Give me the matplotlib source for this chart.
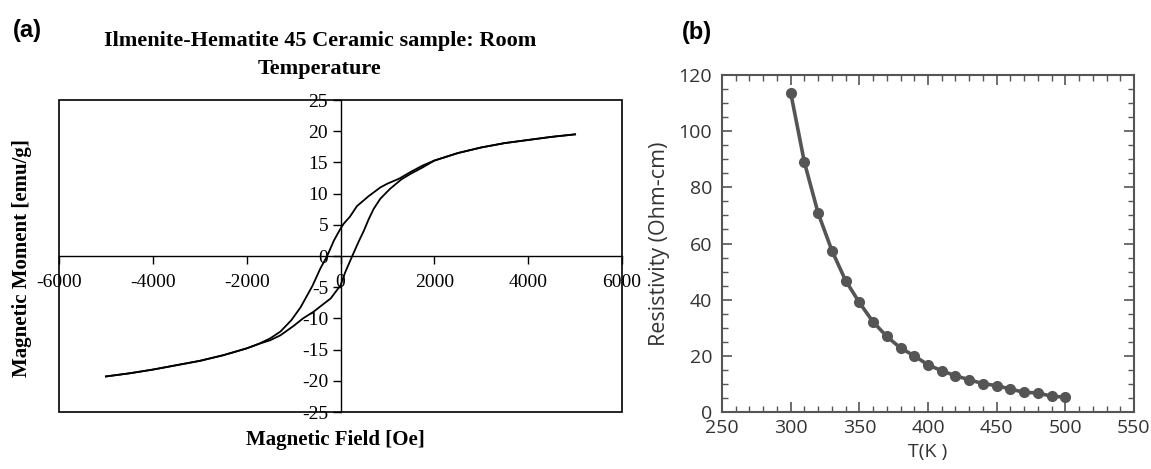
import matplotlib
matplotlib.use("Agg")
import matplotlib.pyplot as plt
from matplotlib.patches import Rectangle
from matplotlib.ticker import MultipleLocator

# (a) hysteresis loop
h_down = [5000, 4500, 4000, 3500, 3000, 2500, 2000, 1750, 1500, 1250, 1000, 850,
          600, 350, 200, 70, 0, -140, -285, -430, -600, -850, -1050, -1280,
          -1500, -1750, -2000, -2500, -3000, -3500, -4000, -4500, -5000]
m_down = [19.5, 19.1, 18.6, 18.1, 17.4, 16.5, 15.3, 14.5, 13.5, 12.4, 11.6, 11.0,
          9.6, 8.0, 6.3, 5.2, 4.4, 2.5, 0.0, -2.0, -4.8, -8.2, -10.3, -12.1,
          -13.2, -14.1, -14.8, -15.9, -16.8, -17.5, -18.2, -18.8, -19.3]
h_up = [-5000, -4500, -4000, -3500, -3000, -2500, -2000, -1750, -1500, -1280,
        -1000, -800, -570, -400, -210, 0, 100, 250, 380, 500, 600, 710, 850,
        1060, 1300, 1500, 1750, 2000, 2500, 3000, 3500, 4000, 4500, 5000]
m_up = [-19.3, -18.8, -18.2, -17.5, -16.8, -15.9, -14.8, -14.1, -13.5, -12.7,
        -11.2, -10.0, -8.9, -7.9, -6.8, -4.7, -2.6, 0.0, 2.2, 4.1, 5.9, 7.6, 9.2,
        10.8, 12.3, 13.2, 14.2, 15.3, 16.5, 17.4, 18.1, 18.6, 19.1, 19.5]
field_ticks = [-6000, -4000, -2000, 0, 2000, 4000, 6000]
moment_ticks = [-25, -20, -15, -10, -5, 0, 5, 10, 15, 20, 25]

# (b) resistivity vs temperature
temp_k = [300, 310, 320, 330, 340, 350, 360, 370, 380, 390, 400,
          410, 420, 430, 440, 450, 460, 470, 480, 490, 500]
resistivity = [113.7, 88.9, 70.8, 57.5, 46.8, 39.0, 32.1, 26.9, 22.8, 20.0, 16.8,
               14.7, 12.9, 11.5, 10.1, 9.4, 8.2, 7.0, 6.8, 5.6, 5.3]

fig = plt.figure(figsize=(11.51, 4.69), dpi=100)

# ---- panel (a)
serif = "Liberation Serif"
ax1 = fig.add_axes([0.0513, 0.1215, 0.4891, 0.6652])
ax1.plot(h_down, m_down, color="black", lw=1.3)
ax1.plot(h_up, m_up, color="black", lw=1.3)
ax1.set_xlim(-6000, 6000)
ax1.set_ylim(-25, 25)
ax1.spines["left"].set_position(("data", 0))
ax1.spines["bottom"].set_position(("data", 0))
for s in ["top", "right"]:
    ax1.spines[s].set_visible(False)
for s in ["left", "bottom"]:
    ax1.spines[s].set_linewidth(1.0)
ax1.add_patch(Rectangle((0, 0), 1, 1, transform=ax1.transAxes, fill=False,
                        lw=1.2, ec="black", clip_on=False))
ax1.tick_params(axis="x", direction="out", length=6, width=1, pad=7, labelsize=14)
ax1.tick_params(axis="y", direction="out", length=6, width=1, pad=3, labelsize=14)
ax1.set_xticks(field_ticks)
ax1.set_xticklabels([str(v) for v in field_ticks], fontfamily=serif, fontsize=14)
ax1.set_yticks(moment_ticks)
ax1.set_yticklabels([str(v) for v in moment_ticks], fontfamily=serif, fontsize=14)

fig.text(320 / 1151, 1 - 55 / 469,
         "Ilmenite-Hematite 45 Ceramic sample: Room\nTemperature",
         ha="center", va="center", fontsize=16, fontweight="bold",
         fontfamily=serif, linespacing=1.5)
fig.text(335 / 1151, 1 - 440 / 469, "Magnetic Field [Oe]", ha="center",
         va="center", fontsize=15, fontweight="bold", fontfamily=serif)
fig.text(22 / 1151, 1 - 258 / 469, "Magnetic Moment [emu/g]", ha="center",
         va="center", rotation=90, fontsize=15, fontweight="bold", fontfamily=serif)
fig.text(27 / 1151, 1 - 30 / 469, "(a)", ha="center", va="center",
         fontsize=17, fontweight="bold", fontfamily="Liberation Sans")

# ---- panel (b)
gray = "#555555"
sans = "Open Sans"
ax2 = fig.add_axes([0.6273, 0.1215, 0.3579, 0.7186])
ax2.plot(temp_k, resistivity, color=gray, lw=2.6, marker="o", ms=7,
         mfc=gray, mec=gray)
ax2.set_xlim(250, 550)
ax2.set_ylim(0, 120)
ax2.xaxis.set_major_locator(MultipleLocator(50))
ax2.xaxis.set_minor_locator(MultipleLocator(10))
ax2.yaxis.set_major_locator(MultipleLocator(20))
ax2.yaxis.set_minor_locator(MultipleLocator(5))
for s in ax2.spines.values():
    s.set_color(gray)
    s.set_linewidth(1.5)
ax2.tick_params(which="both", direction="in", top=True, right=True,
                colors=gray, labelcolor="#333333", labelsize=14)
ax2.tick_params(which="major", length=7, width=1.2)
ax2.tick_params(which="minor", length=4, width=1.0)
ax2.tick_params(axis="y", pad=7)
ax2.tick_params(axis="x", pad=5)
for lab in ax2.get_xticklabels() + ax2.get_yticklabels():
    lab.set_fontfamily(sans)
ax2.set_xlabel("T(K )", fontsize=14, fontfamily=sans, color="#333333", labelpad=4)
ax2.set_ylabel("Resistivity (Ohm-cm)", fontsize=15.5, fontfamily=sans,
               color="#333333", labelpad=6)
fig.text(697 / 1151, 1 - 32 / 469, "(b)", ha="center", va="center",
         fontsize=17, fontweight="bold", fontfamily="Liberation Sans")

fig.savefig("out.png", dpi=100)
